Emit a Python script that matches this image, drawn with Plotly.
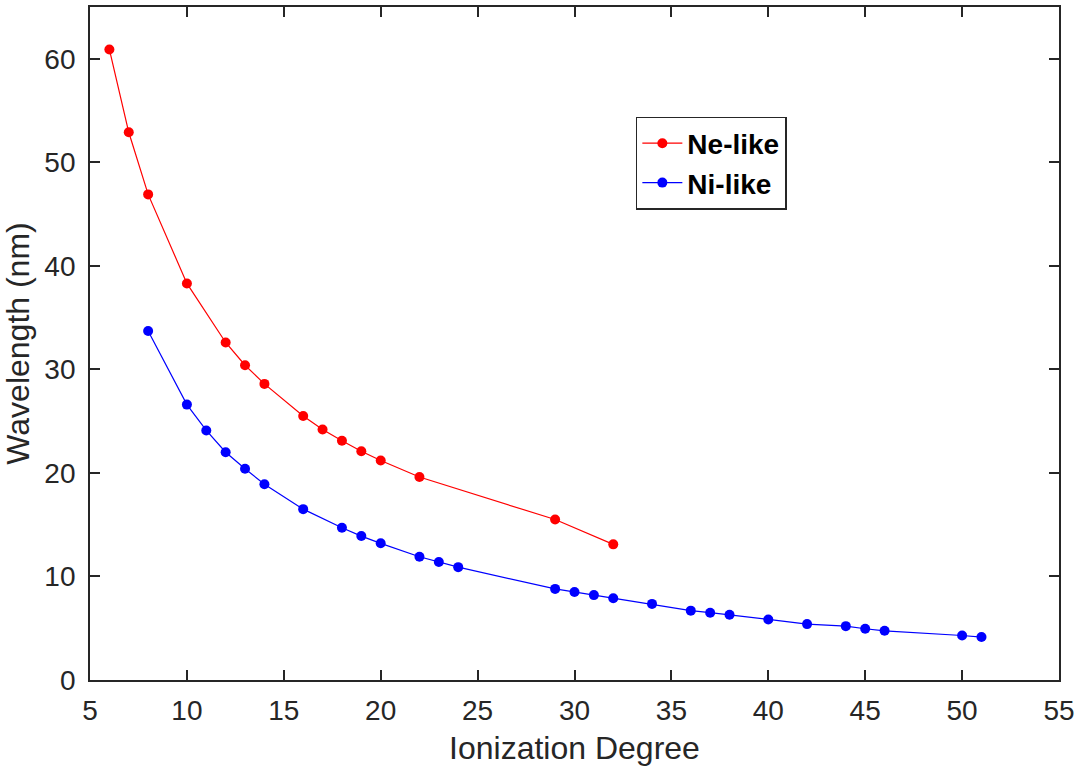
import plotly.graph_objects as go

ne_x = [6, 7, 8, 10, 12, 13, 14, 16, 17, 18, 19, 20, 22, 29, 32]
ne_y = [60.9, 52.9, 46.9, 38.3, 32.6, 30.4, 28.6, 25.5, 24.2, 23.1, 22.1, 21.2, 19.6, 15.5, 13.1]

ni_x = [8, 10, 11, 12, 13, 14, 16, 18, 19, 20, 22, 23, 24, 29, 30, 31, 32, 34, 36, 37, 38, 40, 42, 44, 45, 46, 50, 51]
ni_y = [33.7, 26.6, 24.1, 22.0, 20.4, 18.9, 16.5, 14.7, 13.9, 13.2, 11.9, 11.4, 10.9, 8.8, 8.5, 8.2, 7.9, 7.35, 6.7, 6.5, 6.3, 5.85, 5.4, 5.2, 4.95, 4.75, 4.3, 4.15]

x_ticks = list(range(5, 56, 5))
y_ticks = list(range(0, 61, 10))

FONT = "Liberation Sans, Arial, Helvetica, sans-serif"
DARK = "#262626"

fig = go.Figure()
fig.add_trace(go.Scatter(x=ne_x, y=ne_y, mode="lines+markers", name="Ne-like",
                         line=dict(color="#ff0000", width=1.2),
                         marker=dict(color="#ff0000", size=10)))
fig.add_trace(go.Scatter(x=ni_x, y=ni_y, mode="lines+markers", name="Ni-like",
                         line=dict(color="#0000ff", width=1.2),
                         marker=dict(color="#0000ff", size=10)))

axis_common = dict(showgrid=False, zeroline=False, showline=True, linecolor=DARK,
                   linewidth=1.8, mirror="allticks", ticks="inside", ticklen=10,
                   tickwidth=1.5, tickcolor=DARK, automargin=False,
                   tickfont=dict(family=FONT, size=28, color=DARK))

fig.update_xaxes(range=[5, 55], tickvals=x_ticks, ticklabelstandoff=4,
                 title=dict(text="Ionization Degree", font=dict(family=FONT, size=32, color=DARK), standoff=12),
                 **axis_common)
fig.update_yaxes(range=[0, 65], tickvals=y_ticks, ticklabelstandoff=7,
                 title=dict(text="Wavelength (nm)", font=dict(family=FONT, size=32, color=DARK), standoff=8),
                 **axis_common)

fig.update_layout(
    width=1081, height=772,
    margin=dict(l=90, r=22, t=7, b=92),
    plot_bgcolor="white", paper_bgcolor="white",
    legend=dict(x=0.563, y=0.837, xanchor="left", yanchor="top",
                bordercolor=DARK, borderwidth=1.8, bgcolor="white",
                font=dict(family=FONT, size=28, color="black", weight="bold"),
                itemwidth=40, tracegroupgap=0),
    showlegend=True,
)

fig.write_html("out.html")
